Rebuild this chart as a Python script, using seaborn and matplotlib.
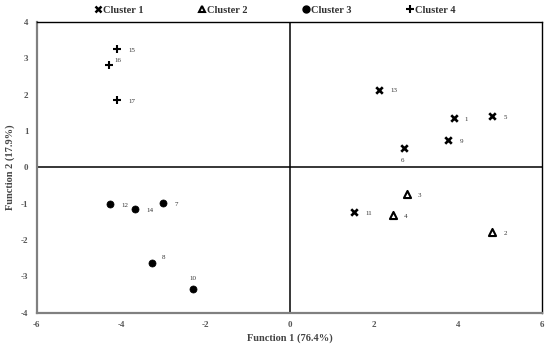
import matplotlib
matplotlib.use("Agg")
import matplotlib.pyplot as plt
import seaborn as sns
import pandas as pd
from matplotlib.lines import Line2D

sns.set_theme(style="white")
plt.rcParams['font.family'] = ['Liberation Serif', 'DejaVu Serif']
plt.rcParams['axes.unicode_minus'] = False

labels = ["1", "2", "3", "4", "5", "6", "7", "8", "9", "10", "11", "12", "13", "14", "15", "16", "17"]
func1 = [3.90, 4.81, 2.79, 2.46, 4.81, 2.71, -3.00, -3.26, 3.77, -2.28, 1.54, -4.25, 2.13, -3.67, -4.09, -4.28, -4.09]
func2 = [1.36, -1.78, -0.73, -1.31, 1.40, 0.53, -0.98, -2.63, 0.74, -3.34, -1.22, -1.01, 2.14, -1.15, 3.26, 2.83, 1.84]
cluster = ["Cluster 1", "Cluster 2", "Cluster 2", "Cluster 2", "Cluster 1", "Cluster 1", "Cluster 3", "Cluster 3",
           "Cluster 1", "Cluster 3", "Cluster 1", "Cluster 3", "Cluster 1", "Cluster 3", "Cluster 4", "Cluster 4", "Cluster 4"]
cluster_names = ["Cluster 1", "Cluster 2", "Cluster 3", "Cluster 4"]

df = pd.DataFrame({"label": labels, "f1": func1, "f2": func2, "cluster": cluster})

styles = {
    "Cluster 1": dict(marker="x", s=22, color="black", linewidth=1.9),
    "Cluster 2": dict(marker="^", s=26, facecolor="white", edgecolor="black", linewidth=1.5),
    "Cluster 3": dict(marker="o", s=26, color="black", edgecolor="black", linewidth=0.5),
    "Cluster 4": dict(marker="+", s=30, color="black", linewidth=1.5),
}

fig = plt.figure(figsize=(5.5, 3.47), dpi=100)
ax = fig.add_axes([36.7/550, 1-312.7/347, (542.3-36.7)/550, (312.7-22)/347])

ax.axhline(0, color="black", lw=1.1, zorder=1)
ax.axvline(0, color="black", lw=1.1, zorder=1)

for c in cluster_names:
    sub = df[df["cluster"] == c]
    sns.scatterplot(data=sub, x="f1", y="f2", ax=ax, legend=False, zorder=3, **styles[c])

offsets = {"6": (-2, -9), "16": (4, 3), "8": (7, 4), "10": (-3, 7)}
for lab, x, y in zip(labels, func1, func2):
    dx, dy = offsets.get(lab, (8, -1))
    ax.annotate(lab, (x, y), xytext=(dx, dy), textcoords="offset points",
                fontsize=5, color="#333333", va="center", ha="left")

ax.set_xlim(-6, 6)
ax.set_ylim(-4, 4)
ax.set_xticks([-6, -4, -2, 0, 2, 4, 6])
ax.set_yticks([-4, -3, -2, -1, 0, 1, 2, 3, 4])
ax.tick_params(axis="both", length=0, labelsize=6.5, colors="#555555", pad=6)
for t in ax.get_xticklabels() + ax.get_yticklabels():
    t.set_fontweight("bold")

for side in ["left", "bottom"]:
    ax.spines[side].set_color("#808080")
    ax.spines[side].set_linewidth(1.6)
for side in ["top", "right"]:
    ax.spines[side].set_color("black")
    ax.spines[side].set_linewidth(1.0)
    ax.spines[side].set_visible(True)

ax.set_xlabel("Function 1 (76.4%)", fontsize=7.5, fontweight="bold", color="#444444", labelpad=3)
ax.set_ylabel("Function 2 (17.9%)", fontsize=7.5, fontweight="bold", color="#444444", labelpad=4)

handles = [
    Line2D([], [], ls="", marker="x", color="black", markersize=5, markeredgewidth=1.8),
    Line2D([], [], ls="", marker="^", markerfacecolor="white", markeredgecolor="black", markersize=5, markeredgewidth=1.5),
    Line2D([], [], ls="", marker="o", color="black", markersize=5),
    Line2D([], [], ls="", marker="+", color="black", markersize=6, markeredgewidth=1.5),
]
leg = fig.legend(handles, cluster_names, loc="center", bbox_to_anchor=(275/550, 1-10.5/347), ncol=4,
                 frameon=False, fontsize=7.5, handlelength=0.6, handletextpad=0.2, columnspacing=5.3,
                 borderaxespad=0, borderpad=0)
for t in leg.get_texts():
    t.set_fontweight("bold")
    t.set_color("#333333")

fig.savefig("out.png", dpi=100)
